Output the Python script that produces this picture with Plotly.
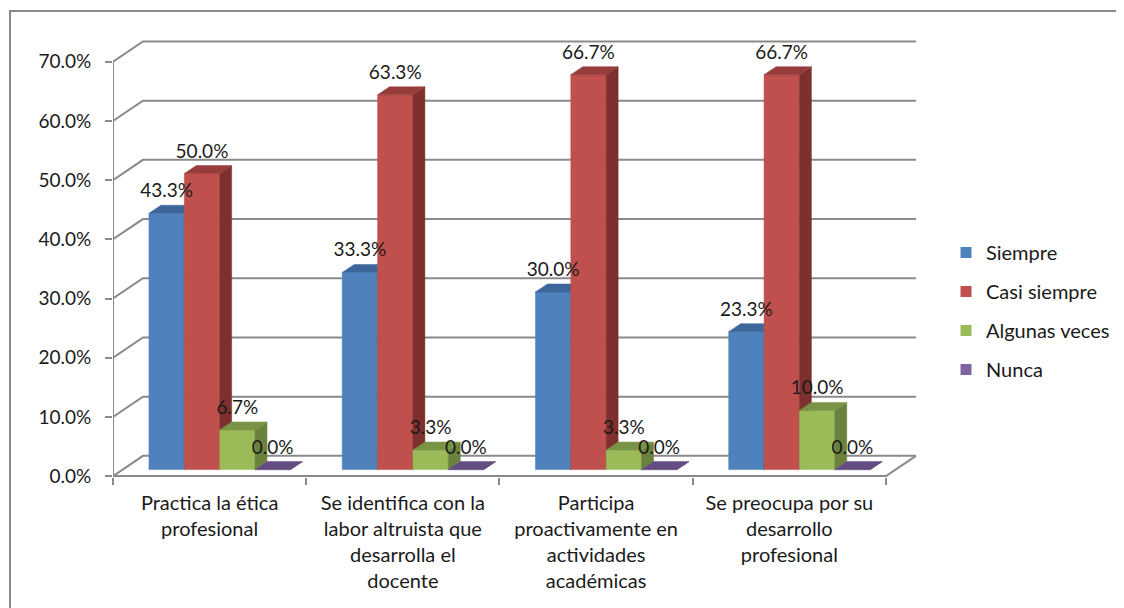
import plotly.graph_objects as go

# Datos
categorias = ["Practica la ética<br>profesional",
              "Se identifica con la<br>labor altruista que<br>desarrolla el<br>docente",
              "Participa<br>proactivamente en<br>actividades<br>académicas",
              "Se preocupa por su<br>desarrollo<br>profesional"]
series = ["Siempre", "Casi siempre", "Algunas veces", "Nunca"]
siempre = [43.3, 33.3, 30.0, 23.3]
casi_siempre = [50.0, 63.3, 66.7, 66.7]
algunas_veces = [6.7, 3.3, 3.3, 10.0]
nunca = [0.0, 0.0, 0.0, 0.0]
ticks_y = [0, 10, 20, 30, 40, 50, 60, 70]

valores = [siempre, casi_siempre, algunas_veces, nunca]
colores = ["#4F81BD", "#C0504D", "#9BBB59", "#8064A2"]
techos = ["#3D679B", "#963C3A", "#7A9446", "#624C80"]
lados = ["#365C8A", "#7E302E", "#6A823C", "#574372"]

# geometria del efecto 3D (unidades de los ejes)
ancho = 0.183
inicio = -0.314
base = 1.1
prof_x, prof_y = 0.062, 1.35
pared_x, pared_y = 0.155, 3.42
gris = "#8A8A8A"
fuente = "Lato"

# tamaño de la figura (la pagina deja 8px de margen)
O = 8
W, H = 1124 - O, 608 - O
ml, mr, mt, mb = 113 - O, 204, 38 - O, 131

fig = go.Figure()

# pared lateral y pared del fondo (lineas de division)
xs, ys = [], []
x_ini, x_fin = -0.5, len(categorias) - 0.5
for t in ticks_y:
    xs += [x_ini, x_ini + pared_x, x_fin + pared_x, None]
    ys += [t, t + pared_y, t + pared_y, None]
# eje frontal vertical, borde frontal del piso y borde derecho
xs += [x_ini, x_ini, None, x_ini, x_fin, x_fin + pared_x, None]
ys += [ticks_y[-1], 0, None, 0, 0, pared_y, None]
fig.add_trace(go.Scatter(x=xs, y=ys, mode="lines", line=dict(color=gris, width=2),
                         hoverinfo="skip", showlegend=False))

# barras 3D
for s, nombre in enumerate(series):
    fx, fy, lx, ly, tx, ty = [], [], [], [], [], []
    for i, v in enumerate(valores[s]):
        x0 = i + inicio + s * ancho
        x1 = x0 + ancho
        y0, y1 = base, base + v
        fx += [x0, x1, x1, x0, x0, None]
        fy += [y0, y0, y1, y1, y0, None]
        lx += [x1, x1 + prof_x, x1 + prof_x, x1, x1, None]
        ly += [y0, y0 + prof_y, y1 + prof_y, y1, y0, None]
        tx += [x0, x1, x1 + prof_x, x0 + prof_x, x0, None]
        ty += [y1, y1, y1 + prof_y, y1 + prof_y, y1, None]
    for px, py, c in [(fx, fy, colores[s]), (lx, ly, lados[s]), (tx, ty, techos[s])]:
        fig.add_trace(go.Scatter(x=px, y=py, mode="lines", fill="toself", fillcolor=c,
                                 line=dict(color=c, width=0.5), hoverinfo="skip",
                                 showlegend=False))

# etiquetas de datos
for s, nombre in enumerate(series):
    fig.add_trace(go.Scatter(
        x=[i + inicio + s * ancho + ancho / 2 for i in range(len(categorias))],
        y=[base + v + 3.5 for v in valores[s]],
        mode="text", text=[f"{v:.1f}%" for v in valores[s]],
        textfont=dict(family=fuente, size=19, color="#1A1A1A"),
        hovertext=[f"{nombre}: {v:.1f}%" for v in valores[s]], hoverinfo="text",
        showlegend=False))

# leyenda
for s, nombre in enumerate(series):
    fig.add_trace(go.Scatter(x=[None], y=[None], mode="markers", name=nombre,
                             legendgroup=nombre,
                             marker=dict(symbol="square", size=11, color=colores[s])))

def px_x(p):
    return (p - O - ml) / (W - ml - mr)

def px_y(p):
    return (H - mb - (p - O)) / (H - mt - mb)

fig.update_layout(
    width=W, height=H,
    margin=dict(l=ml, r=mr, t=mt, b=mb),
    paper_bgcolor="white", plot_bgcolor="white",
    font=dict(family=fuente, size=19, color="#1A1A1A"),
    xaxis=dict(range=[x_ini, x_fin + 0.176], tickvals=list(range(len(categorias))),
               ticktext=categorias, ticks="", showgrid=False, zeroline=False,
               showline=False, ticklabelstandoff=12,
               tickfont=dict(family=fuente, size=20),
               minor=dict(tickvals=[i - 0.5 for i in range(len(categorias) + 1)],
                          ticks="outside", ticklen=7, tickcolor=gris, tickwidth=2,
                          showgrid=False)),
    yaxis=dict(range=[-0.15, 74], tickvals=ticks_y,
               ticktext=[f"{t:.1f}%" for t in ticks_y], ticks="outside", ticklen=7,
               tickcolor=gris, tickwidth=2, showgrid=False, zeroline=False,
               showline=False, ticklabelstandoff=10),
    legend=dict(xref="container", yref="container", x=(946 - O) / W,
                y=1 - (233 - O) / H, xanchor="left", yanchor="top", tracegroupgap=10,
                font=dict(family=fuente, size=20), itemwidth=30),
    shapes=[dict(type="rect", xref="paper", yref="paper",
                 x0=px_x(10), y0=px_y(11), x1=px_x(1134), y1=px_y(618),
                 line=dict(color=gris, width=2), layer="below")],
)

fig.write_html("out.html")
